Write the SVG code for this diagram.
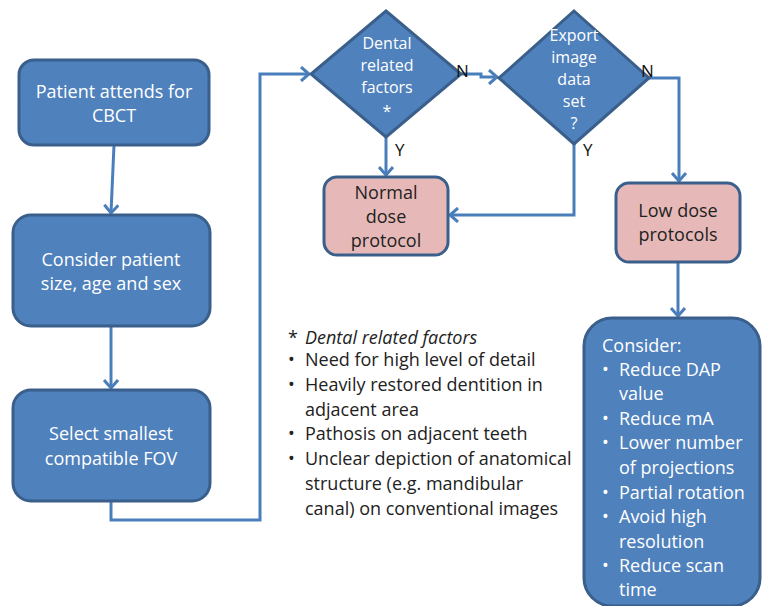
<svg xmlns="http://www.w3.org/2000/svg" width="762" height="606" viewBox="0 0 762 606">
<defs>
<style>
.blue{fill:#4F81BD;stroke:#3A5F8B;stroke-width:3}
.pink{fill:#E6B9B8;stroke:#3A5F8B;stroke-width:3}
.wt{font-family:"Open Sans",Lato,sans-serif;font-size:18px;fill:#fff;text-anchor:middle}
.dt{font-family:"Open Sans",Lato,sans-serif;font-size:16px;fill:#fff;text-anchor:middle}
.bt{font-family:"Open Sans",Lato,sans-serif;font-size:18px;fill:#222;text-anchor:middle}
.lt{font-family:"Open Sans",Lato,sans-serif;font-size:18px;fill:#222}
.lw{font-family:"Open Sans",Lato,sans-serif;font-size:18px;fill:#fff}
.yn{font-family:"Open Sans",Lato,sans-serif;font-size:17px;fill:#111}
.con{fill:none;stroke:#4A7EBB;stroke-width:3;marker-end:url(#arr)}
</style>
<marker id="arr" markerUnits="userSpaceOnUse" markerWidth="14" markerHeight="16" refX="10" refY="8" orient="auto">
<path d="M2,1 L10,8 L2,15" fill="none" stroke="#4A7EBB" stroke-width="3"/>
</marker>
</defs>
<rect width="762" height="606" fill="#fff"/>
<g id="connectors">
<path class="con" d="M114,145 L111,213"/>
<path class="con" d="M111,326 V388"/>
<path class="con" d="M111,501 V520 H260 V74 H309"/>
<path class="con" d="M460,74 H481 V77 H497"/>
<path class="con" d="M386,137 V175"/>
<path class="con" d="M574,144 V215 H450"/>
<path class="con" d="M649,78 H679 V181"/>
<path class="con" d="M678,262 V316"/>
</g>
<g id="patient">
<rect class="blue" x="19" y="60" width="190" height="85" rx="15"/>
<text class="wt" x="114" y="98">Patient attends for</text>
<text class="wt" x="114" y="122">CBCT</text>
</g>
<g id="consider-patient">
<rect class="blue" x="13" y="215" width="197" height="111" rx="18"/>
<text class="wt" x="111" y="266">Consider patient</text>
<text class="wt" x="111" y="290">size, age and sex</text>
</g>
<g id="select-fov">
<rect class="blue" x="13" y="390" width="197" height="111" rx="18"/>
<text class="wt" x="111" y="440">Select smallest</text>
<text class="wt" x="111" y="465">compatible FOV</text>
</g>
<g id="dental">
<polygon class="blue" points="386,11 461,74 386,137 311,74"/>
<text class="dt" x="387" y="49">Dental</text>
<text class="dt" x="387" y="71">related</text>
<text class="dt" x="387" y="93">factors</text>
<text class="dt" x="387" y="117">*</text>
</g>
<g id="export">
<polygon class="blue" points="574,11 649,78 574,144 499,78"/>
<text class="dt" x="574" y="41">Export</text>
<text class="dt" x="574" y="63">image</text>
<text class="dt" x="574" y="85">data</text>
<text class="dt" x="574" y="107">set</text>
<text class="dt" x="574" y="129">?</text>
</g>
<g id="labels">
<text class="yn" x="456" y="77">N</text>
<text class="yn" x="641" y="77">N</text>
<text class="yn" x="395" y="156">Y</text>
<text class="yn" x="583" y="156">Y</text>
</g>
<g id="normal">
<rect class="pink" x="324" y="177" width="124" height="78" rx="13"/>
<text class="bt" x="386" y="199">Normal</text>
<text class="bt" x="386" y="223">dose</text>
<text class="bt" x="386" y="247">protocol</text>
</g>
<g id="lowdose">
<rect class="pink" x="616" y="183" width="124" height="79" rx="13"/>
<text class="bt" x="678" y="217">Low dose</text>
<text class="bt" x="678" y="241">protocols</text>
</g>
<g id="consider-list">
<rect class="blue" x="584" y="318" width="176" height="288" rx="28"/>
<text class="lw" x="602" y="352">Consider:</text>
<g class="lw">
<text x="602" y="376">•</text><text x="619" y="376">Reduce DAP</text>
<text x="619" y="400">value</text>
<text x="602" y="425">•</text><text x="619" y="425">Reduce mA</text>
<text x="602" y="449">•</text><text x="619" y="449">Lower number</text>
<text x="619" y="474">of projections</text>
<text x="602" y="499">•</text><text x="619" y="499">Partial rotation</text>
<text x="602" y="523">•</text><text x="619" y="523">Avoid high</text>
<text x="619" y="548">resolution</text>
<text x="602" y="572">•</text><text x="619" y="572">Reduce scan</text>
<text x="619" y="596">time</text>
</g>
</g>
<g id="note">
<text class="lt" x="288" y="344">*</text><text class="lt" x="305" y="344" font-style="italic">Dental related factors</text>
<text class="lt" x="288" y="366">•</text><text class="lt" x="305" y="366">Need for high level of detail</text>
<text class="lt" x="288" y="391">•</text><text class="lt" x="305" y="391">Heavily restored dentition in</text>
<text class="lt" x="305" y="416">adjacent area</text>
<text class="lt" x="288" y="440">•</text><text class="lt" x="305" y="440">Pathosis on adjacent teeth</text>
<text class="lt" x="288" y="465">•</text><text class="lt" x="305" y="465">Unclear depiction of anatomical</text>
<text class="lt" x="305" y="490">structure (e.g. mandibular</text>
<text class="lt" x="305" y="515">canal) on conventional images</text>
</g>
</svg>
